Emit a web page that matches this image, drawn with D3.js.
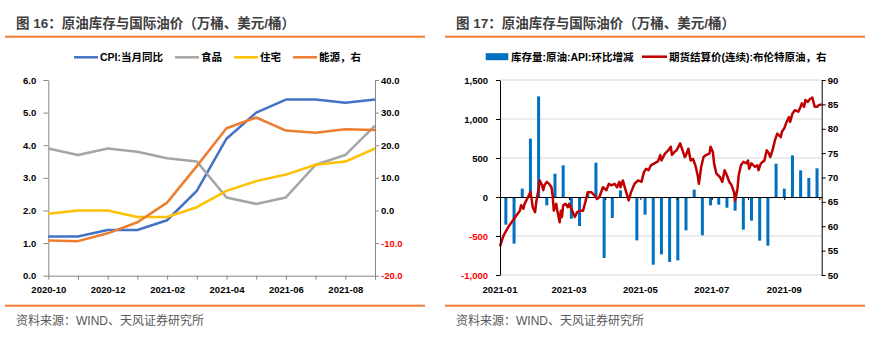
<!DOCTYPE html>
<html><head><meta charset="utf-8">
<script src="https://cdn.jsdelivr.net/npm/d3@7"></script>
<style>body{margin:0;background:#fff} svg{display:block}</style>
</head><body><svg id="c" width="891" height="350"></svg>
<script>
// ---------- Data: left chart (monthly, y/y %) ----------
const months = ["2020-10","2020-11","2020-12","2021-01","2021-02","2021-03","2021-04","2021-05","2021-06","2021-07","2021-08","2021-09"];
const monthLabels = ["2020-10","2020-12","2021-02","2021-04","2021-06","2021-08"];
const cpi     = [1.2,1.2,1.4,1.4,1.7,2.6,4.2,5.0,5.4,5.4,5.3,5.4];
const food    = [3.9,3.7,3.9,3.8,3.6,3.5,2.4,2.2,2.4,3.4,3.7,4.6];
const shelter = [1.9,2.0,2.0,1.8,1.8,2.1,2.6,2.9,3.1,3.4,3.5,3.9];
const energy  = [-9.2,-9.4,-7.0,-3.6,2.4,13.6,25.2,28.5,24.5,23.8,24.9,24.7];
const leftTicksL = [0,1,2,3,4,5,6];
const leftTicksR = [-20,-10,0,10,20,30,40];

// ---------- Data: right chart ----------
// weekly API crude inventory change (10k bbl), first week ending 2021-01-06
const stockChange = [-355,-598,107,748,1290,-107,299,406,-278,-372,40,440,-782,-269,85,-20,-556,-226,-868,-735,-833,-812,-427,94,-491,-107,-98,-137,-175,-419,-303,-560,-624,427,107,534,342,244,368];
// Brent continuous settlement, day offset from 2021-01-01 and price (USD/bbl)
const priceDay = [0,3,7,11,14,17,18,20,21,24,26,27,28,30,31,33,34,36,37,38,40,42,44,45,46,48,49,51,52,53,54,56,58,59,61,64,66,69,71,73,75,78,81,83,85,88,91,93,95,98,100,102,103,105,107,110,112,115,118,121,123,125,127,129,132,135,137,138,141,144,146,147,149,151,154,155,156,158,159,161,163,165,167,169,170,172,174,176,179,180,182,183,185,188,190,192,194,196,198,200,201,203,204,206,208,211,212,213,215,218,220,221,223,226,228,230,231,233,235,237,240,241,243,245,247,248,250,252,255,257,258,260,261,263,265,267,269,271,273,275];
const priceVal = [55.9,58.1,59.8,61.2,62.2,63.2,64.3,63.6,64.6,66.0,67.0,65.6,63.9,62.9,65.0,67.7,69.4,68.4,67.4,68.4,69.1,68.7,68.0,66.3,63.2,64.6,63.2,60.8,63.2,61.9,64.3,64.6,63.9,64.6,63.6,61.9,62.9,63.2,63.2,65.0,67.0,67.0,66.3,65.6,66.0,68.0,67.4,68.7,68.4,68.7,68.0,69.1,68.0,69.4,67.7,65.3,67.0,68.7,69.4,69.1,71.1,71.8,71.5,72.5,72.9,73.3,74.6,73.5,74.9,75.6,76.3,74.6,75.2,75.6,77.0,76.3,75.6,74.2,74.6,75.9,73.5,73.8,72.5,70.4,68.7,72.2,74.2,74.6,74.9,76.3,75.2,72.9,70.8,70.1,69.1,71.5,70.4,69.1,68.4,67.0,65.3,67.7,70.4,72.5,73.2,72.9,73.5,71.8,72.9,72.2,72.5,71.5,72.9,73.5,75.6,74.9,74.2,75.6,77.6,79.0,78.3,79.4,80.1,81.4,82.4,81.4,83.1,83.8,83.5,84.5,85.2,84.5,85.9,85.5,86.1,86.4,84.5,84.5,84.9,85.0];
const stockTicks = [-1000,-500,0,500,1000,1500];
const priceTicks = [50,55,60,65,70,75,80,85,90];
const xLabels2 = ["2021-01","2021-03","2021-05","2021-07","2021-09"];

// ---------- Setup ----------
const svg = d3.select("#c");
const FONT = "'Liberation Sans', Arial, 'Noto Sans CJK SC', sans-serif";
const ORANGE = "#ED7D31";
const fmtSigned = f => d => (d < 0 ? "-" : "") + f(Math.abs(d));

function frame(x0, x1, title) {
  svg.append("text").attr("x", x0 + 11).attr("y", 23).attr("dominant-baseline", "central")
    .attr("font-family", FONT).attr("font-size", 13.5).attr("font-weight", "bold")
    .attr("fill", "#404040").text(title);
  svg.append("rect").attr("x", x0).attr("y", 35.7).attr("width", x1 - x0).attr("height", 2).attr("fill", ORANGE);
  svg.append("rect").attr("x", x0).attr("y", 304.7).attr("width", x1 - x0).attr("height", 2).attr("fill", ORANGE);
  svg.append("text").attr("x", x0 + 11).attr("y", 320.7).attr("dominant-baseline", "central")
    .attr("font-family", FONT).attr("font-size", 12).attr("fill", "#595959").text("资料来源：WIND、天风证券研究所");
}
frame(5, 425, "图 16：原油库存与国际油价（万桶、美元/桶）");
frame(445, 865, "图 17：原油库存与国际油价（万桶、美元/桶）");

function styleAxis(g, color, negRed) {
  g.selectAll("path").attr("stroke", color);
  g.selectAll("line").attr("stroke", color);
  g.selectAll("text").attr("font-family", FONT).attr("font-size", 9.5).attr("font-weight", "bold")
    .attr("fill", d => (negRed && d < 0) ? "#FF0000" : "#000");
}

// ---------- Left chart ----------
const xL = d3.scalePoint().domain(months).range([48.3, 375]);
const yL = d3.scaleLinear().domain([0, 6]).range([275.7, 80]);
const yR = d3.scaleLinear().domain([-20, 40]).range([275.7, 80]);
const AX = "#888888";

const gL = svg.append("g").attr("transform", "translate(48.3,0)")
  .call(d3.axisLeft(yL).tickValues(leftTicksL).tickFormat(fmtSigned(d3.format(".1f"))).tickSize(5).tickSizeOuter(0).tickPadding(7));
styleAxis(gL, AX, true);
const gR = svg.append("g").attr("transform", "translate(375,0)")
  .call(d3.axisRight(yR).tickValues(leftTicksR).tickFormat(fmtSigned(d3.format(".1f"))).tickSize(4).tickSizeOuter(0).tickPadding(2));
styleAxis(gR, AX, true);
const gB = svg.append("g").attr("transform", "translate(0,275.7)")
  .call(d3.axisBottom(xL).tickValues(months).tickFormat(d => monthLabels.includes(d) ? d : "").tickSize(4).tickSizeOuter(0));
styleAxis(gB, AX, false);
gB.selectAll("text").attr("y", 14).attr("dy", "0.35em");

const seriesL = [
  {vals: cpi, color: "#4472C4", y: yL},
  {vals: food, color: "#A5A5A5", y: yL},
  {vals: shelter, color: "#FFC000", y: yL},
  {vals: energy, color: "#ED7D31", y: yR}
];
seriesL.forEach(s => {
  const line = d3.line().x((d, i) => xL(months[i])).y(d => s.y(d));
  svg.append("path").attr("d", line(s.vals)).attr("fill", "none")
    .attr("stroke", s.color).attr("stroke-width", 2.5).attr("stroke-linejoin", "round");
});

// legend left
const legL = [
  {x: 74, label: "CPI:当月同比", color: "#4472C4"},
  {x: 175, label: "食品", color: "#A5A5A5"},
  {x: 234, label: "住宅", color: "#FFC000"},
  {x: 293, label: "能源，右", color: "#ED7D31"}
];
legL.forEach(l => {
  svg.append("line").attr("x1", l.x).attr("x2", l.x + 24).attr("y1", 57.3).attr("y2", 57.3)
    .attr("stroke", l.color).attr("stroke-width", 2.5);
  svg.append("text").attr("x", l.x + 26).attr("y", 57.3).attr("dominant-baseline", "central")
    .attr("font-family", FONT).attr("font-size", 10.5).attr("font-weight", "bold").attr("fill", "#000").text(l.label);
});

// ---------- Right chart ----------
const t0 = new Date(2021, 0, 1);
const x2 = d3.scaleTime().domain([t0, new Date(2021, 9, 3)]).range([500, 821.7]);
const y2 = d3.scaleLinear().domain([-1000, 1500]).range([275, 80]);
const y3 = d3.scaleLinear().domain([50, 90]).range([275, 80]);

// gridlines
svg.append("g").selectAll("line").data(stockTicks.filter(d => d !== 0)).join("line")
  .attr("x1", 500).attr("x2", 821.7).attr("y1", d => y2(d)).attr("y2", d => y2(d))
  .attr("stroke", "#D9D9D9").attr("stroke-width", 1);

// bars
const barDates = stockChange.map((v, i) => d3.timeDay.offset(t0, 5 + 7 * i));
svg.append("g").selectAll("rect").data(stockChange).join("rect")
  .attr("x", (d, i) => x2(barDates[i]) - 1.5).attr("width", 3)
  .attr("y", d => y2(Math.max(0, d))).attr("height", d => Math.abs(y2(d) - y2(0)))
  .attr("fill", "#0070C0");

// zero axis with monthly ticks
const gZ = svg.append("g").attr("transform", `translate(0,${y2(0)})`)
  .call(d3.axisBottom(x2).ticks(d3.timeMonth.every(1)).tickFormat("").tickSize(3).tickSizeOuter(0));
gZ.selectAll("path,line").attr("stroke", "#000");

// price line
const pLine = d3.line().x((d, i) => x2(d3.timeDay.offset(t0, priceDay[i]))).y(d => y3(d));
svg.append("path").attr("d", pLine(priceVal)).attr("fill", "none")
  .attr("stroke", "#C00000").attr("stroke-width", 2.5).attr("stroke-linejoin", "round");

// axes
const g2L = svg.append("g").attr("transform", "translate(500,0)")
  .call(d3.axisLeft(y2).tickValues(stockTicks).tickFormat(fmtSigned(d3.format(","))).tickSize(4).tickSizeOuter(0).tickPadding(8));
styleAxis(g2L, "#000", true);
const g2R = svg.append("g").attr("transform", "translate(821.7,0)")
  .call(d3.axisRight(y3).tickValues(priceTicks).tickFormat(d3.format("d")).tickSize(4).tickSizeOuter(0).tickPadding(2));
styleAxis(g2R, "#000", false);

// x labels right chart
svg.append("g").selectAll("text").data(xLabels2).join("text")
  .attr("x", d => x2(d3.timeParse("%Y-%m")(d))).attr("y", 289.7)
  .attr("text-anchor", "middle").attr("dominant-baseline", "central")
  .attr("font-family", FONT).attr("font-size", 9.5).attr("font-weight", "bold").attr("fill", "#000").text(d => d);

// legend right
svg.append("rect").attr("x", 485.7).attr("y", 53.2).attr("width", 22.6).attr("height", 7).attr("fill", "#0070C0");
svg.append("text").attr("x", 511).attr("y", 56.7).attr("dominant-baseline", "central")
  .attr("font-family", FONT).attr("font-size", 10.5).attr("font-weight", "bold").text("库存量:原油:API:环比增减");
svg.append("line").attr("x1", 642).attr("x2", 667).attr("y1", 56.7).attr("y2", 56.7)
  .attr("stroke", "#C00000").attr("stroke-width", 2.5);
svg.append("text").attr("x", 669).attr("y", 56.7).attr("dominant-baseline", "central")
  .attr("font-family", FONT).attr("font-size", 10.5).attr("font-weight", "bold").text("期货结算价(连续):布伦特原油，右");
</script></body></html>
